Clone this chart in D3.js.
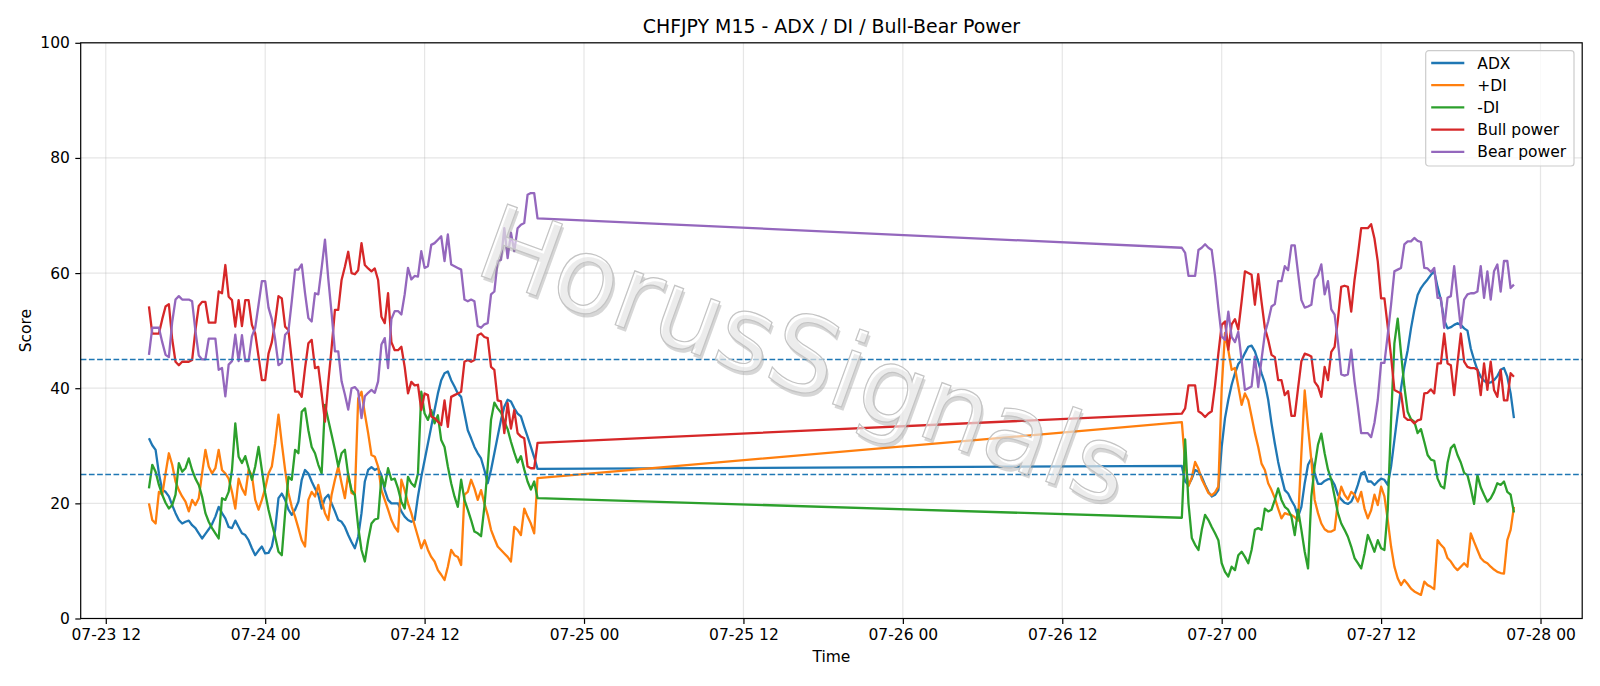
<!DOCTYPE html>
<html>
<head>
<meta charset="utf-8">
<script src="https://cdn.jsdelivr.net/npm/d3@7"></script>
<style>
  html, body { margin: 0; padding: 0; background: #fff; }
  svg { display: block; font-family: "DejaVu Sans", sans-serif; }
</style>
</head>
<body>
<svg id="chart" width="1600" height="686"></svg>
<script>
// two trading sessions of M15 bars (weekend gap between them)
const sessions = [
  { start: '2025-07-23 15:15', bars: 118 },
  { start: '2025-07-26 21:00', bars: 101 },
];

const adx = [
  31.3, 30.1, 29.3, 25.2, 22.3, 22.0, 21.2, 19.7, 18.3, 17.1,
  16.5, 16.8, 17.0, 16.2, 15.7, 14.8, 13.9, 14.7, 15.5, 16.4,
  17.7, 19.4, 18.3, 17.4, 15.9, 15.7, 17.0, 15.9, 14.8, 14.5,
  13.6, 12.2, 11.0, 11.8, 12.5, 11.3, 11.4, 12.5, 15.4, 20.9,
  21.7, 20.6, 18.9, 18.0, 18.9, 20.3, 24.1, 25.8, 25.2, 23.8,
  22.6, 21.5, 19.1, 20.9, 21.5, 20.0, 18.6, 17.1, 16.8, 15.9,
  14.5, 13.3, 12.2, 14.2, 18.3, 23.8, 25.8, 26.3, 25.8, 26.1,
  24.9, 22.3, 20.6, 20.0, 20.0, 20.0, 18.6, 17.7, 17.1, 16.8,
  17.1, 21.2, 24.6, 27.5, 30.4, 33.3, 36.2, 39.1, 41.4, 42.6,
  42.9, 41.4, 40.3, 39.1, 38.5, 35.6, 32.7, 31.3, 29.8, 28.7,
  27.8, 25.8, 23.5, 25.8, 28.7, 31.6, 34.5, 36.8, 38.0, 37.7,
  36.5, 35.6, 35.1, 33.3, 31.6, 29.8, 28.0, 26.0,
  26.5, 23.8, 23.2, 24.3, 25.8, 25.5, 24.6, 23.2, 22.0, 21.2,
  21.5, 22.3, 29.8, 34.8, 38.0, 40.6, 42.6, 44.2, 44.9, 46.1,
  47.2, 47.4, 46.4, 44.6, 42.6, 40.9, 38.0, 33.9, 30.4, 27.2,
  24.6, 22.3, 21.7, 20.5, 19.5, 17.7, 19.4, 23.5, 26.7, 27.8,
  25.2, 23.4, 23.4, 23.9, 24.2, 24.2, 23.2, 21.5, 20.7, 20.1,
  19.9, 20.3, 21.5, 23.2, 25.2, 25.5, 23.8, 23.8, 23.2, 23.8,
  24.3, 24.1, 23.2, 26.4, 31.0, 35.6, 40.0, 43.7, 46.6, 50.4,
  53.6, 56.2, 57.4, 58.2, 58.9, 59.7, 60.3, 57.6, 55.3, 51.8,
  50.4, 50.6, 51.0, 51.3, 51.0, 50.4, 50.0, 46.9, 44.9, 43.2,
  42.0, 41.3, 40.9, 41.0, 41.4, 42.1, 43.2, 43.5, 42.0, 39.1,
  34.8,
];

const plusDI = [
  20.0, 17.1, 16.5, 22.0, 21.5, 25.2, 28.7, 26.7, 23.8, 22.3,
  21.2, 20.3, 18.6, 20.6, 19.7, 20.9, 25.2, 29.3, 26.4, 25.2,
  26.1, 29.3, 25.8, 25.2, 24.3, 22.0, 19.1, 24.3, 22.6, 21.5,
  25.8, 24.9, 20.6, 18.9, 20.6, 22.6, 25.2, 26.4, 30.4, 35.4,
  30.4, 25.8, 21.8, 19.4, 17.7, 15.7, 13.6, 12.5, 20.6, 22.0,
  21.2, 23.2, 20.6, 18.3, 17.1, 21.5, 24.1, 26.4, 23.5, 20.9,
  25.2, 21.8, 21.5, 38.2, 39.4, 35.6, 32.2, 28.4, 28.1, 26.4,
  22.3, 20.6, 18.9, 17.1, 15.9, 15.1, 24.1, 22.3, 20.0, 18.3,
  16.2, 14.2, 12.2, 13.6, 11.9, 10.7, 9.9, 8.4, 7.6, 6.7,
  9.0, 11.9, 11.0, 10.7, 9.3, 21.5, 22.0, 24.1, 22.6, 20.6,
  22.3, 20.0, 18.0, 15.4, 13.9, 12.5, 11.9, 11.3, 10.7, 9.9,
  15.9, 15.4, 14.5, 19.1, 17.7, 16.5, 14.8, 24.4,
  34.1, 27.0, 23.0, 24.5, 27.2, 26.0, 24.2, 23.0, 21.8, 21.4,
  21.9, 22.9, 40.0, 49.6, 46.6, 43.2, 43.5, 40.3, 37.1, 39.1,
  37.9, 35.1, 32.2, 29.8, 26.9, 25.8, 23.5, 22.3, 20.9, 19.1,
  17.4, 18.3, 18.1, 18.0, 17.6, 17.0, 28.7, 39.6, 33.3, 27.5,
  20.6, 18.3, 16.5, 15.5, 15.1, 15.1, 15.4, 20.3, 22.9, 21.5,
  20.7, 22.0, 21.5, 20.3, 22.0, 19.1, 17.4, 18.8, 21.5, 19.7,
  22.9, 21.2, 17.1, 12.5, 9.0, 7.0, 5.8, 6.7, 6.0, 5.2,
  4.7, 4.4, 4.1, 6.4, 5.8, 5.5, 5.1, 13.6, 12.8, 12.2,
  10.5, 9.9, 9.0, 8.4, 9.0, 9.6, 9.0, 14.8, 13.3, 11.9,
  10.5, 9.9, 9.6, 9.0, 8.5, 8.1, 7.9, 7.8, 13.6, 15.4,
  19.4,
];

const minusDI = [
  22.6, 26.7, 25.5, 23.2, 21.5, 20.1, 19.1, 19.7, 21.5, 27.0,
  25.5, 26.1, 27.8, 25.8, 24.3, 23.2, 21.2, 18.3, 16.8, 15.7,
  14.8, 13.9, 20.9, 20.6, 22.0, 25.8, 33.9, 28.1, 27.0, 28.2,
  26.1, 24.1, 26.4, 29.8, 25.8, 21.8, 18.9, 16.5, 14.2, 11.6,
  11.0, 18.3, 24.6, 24.1, 29.3, 28.7, 35.9, 36.5, 32.7, 29.8,
  28.7, 26.7, 25.2, 37.1, 34.5, 31.9, 29.3, 26.4, 28.7, 29.3,
  24.9, 22.3, 21.5, 15.9, 11.9, 9.9, 13.6, 16.5, 17.2, 17.4,
  24.6, 22.9, 26.1, 24.1, 24.3, 22.6, 20.3, 19.1, 24.6, 23.5,
  22.9, 25.2, 39.4, 35.6, 34.5, 36.2, 33.9, 35.3, 31.0, 29.8,
  26.4, 23.5, 21.2, 19.4, 24.1, 20.6, 18.9, 17.1, 15.1, 14.8,
  14.3, 19.4, 26.4, 34.5, 37.5, 36.5, 35.8, 34.2, 32.9, 30.7,
  28.8, 27.1, 28.2, 25.9, 23.8, 22.4, 23.8, 20.9,
  17.5, 31.1, 20.0, 14.0, 12.8, 11.9, 15.4, 18.0, 17.1, 15.9,
  14.8, 13.6, 9.6, 8.1, 7.3, 9.0, 8.4, 11.0, 11.6, 10.7,
  9.6, 11.9, 15.4, 15.7, 15.4, 19.1, 18.6, 18.9, 20.6, 22.6,
  20.6, 19.4, 18.9, 17.7, 14.5, 18.9, 15.4, 11.6, 8.7, 21.2,
  26.4, 30.2, 32.1, 28.7, 25.9, 24.1, 21.2, 18.3, 16.5, 15.4,
  14.2, 12.5, 10.5, 9.6, 8.7, 11.3, 14.5, 13.1, 11.6, 13.6,
  12.2, 11.9, 18.9, 34.5, 47.8, 52.1, 46.1, 40.3, 35.9, 34.6,
  34.2, 32.2, 32.9, 30.7, 28.4, 27.6, 27.4, 24.3, 23.0, 22.6,
  27.0, 29.6, 30.2, 28.4, 27.1, 25.3, 24.9, 22.6, 19.9, 24.9,
  22.8, 21.5, 20.3, 20.9, 22.0, 23.5, 23.2, 23.8, 22.0, 21.5,
  18.4,
];

const bullPower = [
  54.2, 49.5, 49.5, 49.5, 52.0, 54.2, 54.6, 48.5, 44.6, 44.0,
  44.6, 44.6, 44.6, 44.9, 50.1, 54.3, 55.0, 55.0, 51.4, 51.4,
  51.4, 56.8, 56.5, 61.4, 55.9, 55.3, 50.7, 55.3, 50.8, 55.3,
  55.3, 51.0, 49.5, 45.5, 41.4, 41.4, 46.0, 48.0, 51.5, 56.0,
  55.6, 50.7, 50.1, 44.9, 39.4, 39.4, 38.5, 43.5, 47.8, 48.4,
  43.5, 43.7, 39.1, 34.2, 41.0, 47.0, 53.6, 53.6, 58.8, 61.1,
  63.7, 60.0, 59.8, 60.5, 65.2, 61.4, 60.8, 60.3, 60.8, 58.8,
  52.4, 51.3, 56.5, 48.0, 46.6, 46.6, 47.2, 43.7, 39.1, 41.1,
  40.5, 40.6, 36.2, 39.1, 38.8, 35.1, 34.8, 34.2, 33.6, 37.9,
  33.3, 38.5, 38.8, 39.1, 39.4, 44.6, 44.9, 44.6, 44.9, 49.2,
  49.5, 48.9, 48.7, 43.7, 43.2, 37.9, 37.7, 32.2, 37.4, 33.0,
  36.2, 32.2, 31.6, 31.3, 26.4, 26.1, 26.1, 30.5,
  35.6, 36.5, 40.5, 40.5, 40.5, 36.0, 35.6, 35.0, 35.6, 36.0,
  40.5, 46.0, 51.0, 51.6, 46.7, 51.1, 52.0, 50.2, 55.1, 60.3,
  60.0, 59.7, 54.5, 59.8, 55.0, 50.5, 48.4, 45.8, 45.4, 41.4,
  41.4, 38.8, 39.5, 35.2, 35.2, 40.0, 44.7, 46.0, 45.8, 45.5,
  41.1, 40.3, 38.5, 43.7, 41.4, 46.3, 47.2, 51.9, 57.6, 57.8,
  57.6, 53.3, 58.8, 63.1, 67.8, 67.8, 67.8, 68.5, 66.0, 62.0,
  55.6, 55.6, 50.7, 45.5, 39.7, 39.4, 39.1, 35.0, 34.5, 34.5,
  33.9, 34.4, 34.6, 39.1, 39.2, 39.8, 39.1, 44.3, 44.3, 49.5,
  44.3, 44.0, 38.8, 44.3, 49.5, 44.6, 43.7, 43.5, 43.5, 43.2,
  38.8, 44.3, 39.7, 44.6, 39.7, 38.5, 43.2, 37.9, 37.9, 42.6,
  42.0,
];

const bearPower = [
  45.8, 50.5, 50.5, 50.5, 48.0, 45.8, 45.4, 51.5, 55.4, 56.0,
  55.4, 55.4, 55.4, 55.1, 49.9, 45.7, 45.0, 45.0, 48.6, 48.6,
  48.6, 43.2, 43.5, 38.6, 44.1, 44.7, 49.3, 44.7, 49.2, 44.7,
  44.7, 49.0, 50.5, 54.5, 58.6, 58.6, 54.0, 52.0, 48.5, 44.0,
  44.4, 49.3, 49.9, 55.1, 60.6, 60.6, 61.5, 56.5, 52.2, 51.6,
  56.5, 56.3, 60.9, 65.8, 59.0, 53.0, 46.4, 46.4, 41.2, 38.9,
  36.3, 40.0, 40.2, 39.5, 34.8, 38.6, 39.2, 39.7, 39.2, 41.2,
  47.6, 48.7, 43.5, 52.0, 53.4, 53.4, 52.8, 56.3, 60.9, 58.9,
  59.5, 59.4, 63.8, 60.9, 61.2, 64.9, 65.2, 65.8, 66.4, 62.1,
  66.7, 61.5, 61.2, 60.9, 60.6, 55.4, 55.1, 55.4, 55.1, 50.8,
  50.5, 51.1, 51.3, 56.3, 56.8, 62.1, 62.3, 67.8, 62.6, 67.0,
  63.8, 67.8, 68.4, 68.7, 73.6, 73.9, 73.9, 69.5,
  64.4, 63.5, 59.5, 59.5, 59.5, 64.0, 64.4, 65.0, 64.4, 64.0,
  59.5, 54.0, 49.0, 48.4, 53.3, 48.9, 48.0, 49.8, 44.9, 39.7,
  40.0, 40.3, 45.5, 40.2, 45.0, 49.5, 51.6, 54.2, 54.6, 58.6,
  58.6, 61.2, 60.5, 64.8, 64.8, 60.0, 55.3, 54.0, 54.2, 54.5,
  58.9, 59.7, 61.5, 56.3, 58.6, 53.7, 52.8, 48.1, 42.4, 42.2,
  42.4, 46.7, 41.2, 36.9, 32.2, 32.2, 32.2, 31.5, 34.0, 38.0,
  44.4, 44.4, 49.3, 54.5, 60.3, 60.6, 60.9, 65.0, 65.5, 65.5,
  66.1, 65.6, 65.4, 60.9, 60.8, 60.2, 60.9, 55.7, 55.7, 50.5,
  55.7, 56.0, 61.2, 55.7, 50.5, 55.4, 56.3, 56.5, 56.5, 56.8,
  61.2, 55.7, 60.3, 55.4, 60.3, 61.5, 56.8, 62.1, 62.1, 57.4,
  58.0,
];

const seriesNames = ['ADX', '+DI', '-DI', 'Bull power', 'Bear power'];
const seriesValues = [adx, plusDI, minusDI, bullPower, bearPower];
const colors = ['#1f77b4', '#ff7f0e', '#2ca02c', '#d62728', '#9467bd'];
const levels = [25, 45];
const yTicks = [0, 20, 40, 60, 80, 100];

const parseTime = d3.timeParse('%Y-%m-%d %H:%M');
const times = sessions.flatMap((s) => {
  const t0 = parseTime(s.start);
  return d3.range(s.bars).map((i) => d3.timeMinute.offset(t0, i * 15));
});

const W = 1600;
const H = 686;
const margin = { left: 80.7, right: W - 1582.2, top: 42.8, bottom: H - 618.5 };
const fs = 15.5; // 10pt at this dpi

const svg = d3.select('#chart');

const span = times[times.length - 1] - times[0];
const x = d3.scaleTime()
  .domain([new Date(+times[0] - span * 0.05), new Date(+times[times.length - 1] + span * 0.05)])
  .range([margin.left, W - margin.right]);

const y = d3.scaleLinear()
  .domain([0, 100])
  .range([H - margin.bottom, margin.top]);

const xTicks = x.ticks(d3.timeHour.every(12));

// grid
const grid = svg.append('g')
  .attr('stroke', '#b0b0b0')
  .attr('stroke-opacity', 0.32)
  .attr('stroke-width', 1.2);
grid.selectAll('line.gx')
  .data(xTicks)
  .join('line')
  .attr('class', 'gx')
  .attr('x1', (d) => x(d))
  .attr('x2', (d) => x(d))
  .attr('y1', y(0))
  .attr('y2', y(100));
grid.selectAll('line.gy')
  .data(yTicks)
  .join('line')
  .attr('class', 'gy')
  .attr('x1', x.range()[0])
  .attr('x2', x.range()[1])
  .attr('y1', (d) => y(d))
  .attr('y2', (d) => y(d));

// series lines
const line = d3.line()
  .x((d, i) => x(times[i]))
  .y((d) => y(d));

svg.append('g')
  .selectAll('path')
  .data(seriesValues)
  .join('path')
  .attr('fill', 'none')
  .attr('stroke', (d, i) => colors[i])
  .attr('stroke-width', 2.3)
  .attr('stroke-linejoin', 'round')
  .attr('d', line);

// threshold lines
svg.append('g')
  .selectAll('line')
  .data(levels)
  .join('line')
  .attr('x1', x.range()[0])
  .attr('x2', x.range()[1])
  .attr('y1', (d) => y(d))
  .attr('y2', (d) => y(d))
  .attr('stroke', '#1f77b4')
  .attr('stroke-width', 1.5)
  .attr('stroke-dasharray', '5.7,2.5');

// axes
const xAxis = svg.append('g')
  .attr('transform', `translate(0,${y(0)})`)
  .call(d3.axisBottom(x)
    .tickValues(xTicks)
    .tickFormat(d3.timeFormat('%m-%d %H'))
    .tickSize(5.4)
    .tickPadding(5.4));

const yAxis = svg.append('g')
  .attr('transform', `translate(${x.range()[0]},0)`)
  .call(d3.axisLeft(y)
    .tickValues(yTicks)
    .tickSize(5.4)
    .tickPadding(5.4));

[xAxis, yAxis].forEach((ax) => {
  ax.select('.domain').remove();
  ax.selectAll('.tick line').attr('stroke', '#000').attr('stroke-width', 1.2);
  ax.selectAll('.tick text')
    .attr('fill', '#000')
    .style('font-family', '"DejaVu Sans", sans-serif')
    .style('font-size', `${fs}px`);
});

// frame
svg.append('rect')
  .attr('x', x.range()[0])
  .attr('y', y(100))
  .attr('width', x.range()[1] - x.range()[0])
  .attr('height', y(0) - y(100))
  .attr('fill', 'none')
  .attr('stroke', '#000')
  .attr('stroke-width', 1.2);

// titles
svg.append('text')
  .attr('x', (x.range()[0] + x.range()[1]) / 2)
  .attr('y', 33)
  .attr('text-anchor', 'middle')
  .style('font-size', '18.9px')
  .text('CHFJPY M15 - ADX / DI / Bull-Bear Power');

svg.append('text')
  .attr('x', (x.range()[0] + x.range()[1]) / 2)
  .attr('y', 661.5)
  .attr('text-anchor', 'middle')
  .style('font-size', `${fs}px`)
  .text('Time');

svg.append('text')
  .attr('transform', `translate(31,${(y(0) + y(100)) / 2}) rotate(-90)`)
  .attr('text-anchor', 'middle')
  .style('font-size', `${fs}px`)
  .text('Score');

// legend
const legend = svg.append('g').attr('transform', 'translate(1425.7,50.7)');
legend.append('rect')
  .attr('width', 148.3)
  .attr('height', 115.3)
  .attr('rx', 3)
  .attr('fill', '#fff')
  .attr('fill-opacity', 0.8)
  .attr('stroke', '#cccccc')
  .attr('stroke-width', 1.2);

const rows = legend.selectAll('g.row')
  .data(seriesNames)
  .join('g')
  .attr('class', 'row')
  .attr('transform', (d, i) => `translate(0,${12.3 + i * 22.2})`);
rows.append('line')
  .attr('x1', 5.5)
  .attr('x2', 38.6)
  .attr('stroke', (d, i) => colors[i])
  .attr('stroke-width', 2.3);
rows.append('text')
  .attr('x', 51.6)
  .attr('dy', '0.36em')
  .style('font-size', `${fs}px`)
  .text((d) => d);

// watermark
const wm = svg.append('g')
  .attr('transform', 'translate(806,355) rotate(20)')
  .style('font-size', '105px');
wm.append('text')
  .attr('x', 3)
  .attr('y', 3)
  .attr('text-anchor', 'middle')
  .attr('dy', '0.35em')
  .attr('fill', '#8c8c8c')
  .attr('opacity', 0.35)
  .text('HorusSignals');
wm.append('text')
  .attr('text-anchor', 'middle')
  .attr('dy', '0.35em')
  .attr('fill', '#fff')
  .attr('fill-opacity', 0.55)
  .attr('stroke', '#c4c4c4')
  .attr('stroke-width', 1.2)
  .text('HorusSignals');
</script>
</body>
</html>
